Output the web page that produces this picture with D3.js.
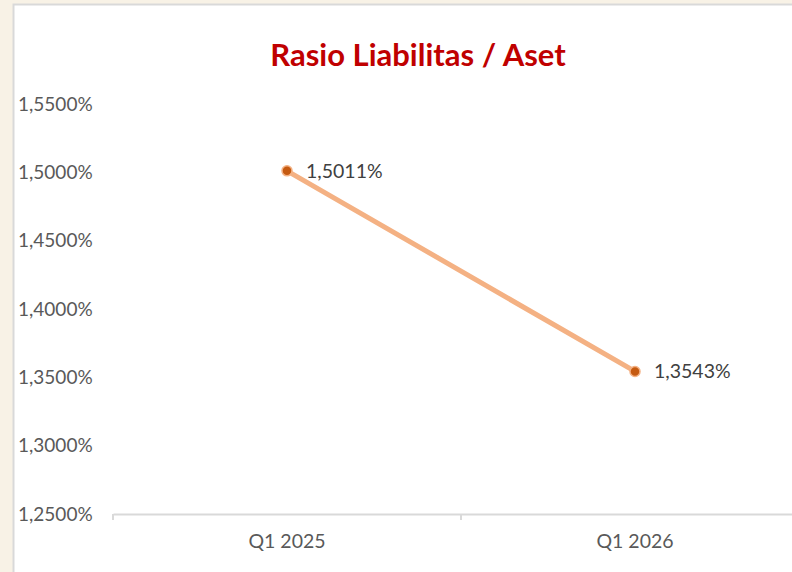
<!DOCTYPE html>
<html><head><meta charset="utf-8">
<script src="https://cdn.jsdelivr.net/npm/d3@7"></script>
<style>body{margin:0;background:#fff;}svg{display:block;}</style>
</head><body>
<script>
const categories = ["Q1 2025", "Q1 2026"];
const values = [1.5011, 1.3543];
const valueLabels = ["1,5011%", "1,3543%"];
const yTicks = [1.25, 1.30, 1.35, 1.40, 1.45, 1.50, 1.55];
const title = "Rasio Liabilitas / Aset";

const W = 792, H = 572;
const svg = d3.select("body").append("svg").attr("width", W).attr("height", H);
// background frame
svg.append("rect").attr("x",0).attr("y",0).attr("width",W).attr("height",H).attr("fill","#F8F2E6");
svg.append("rect").attr("x",13.5).attr("y",4.5).attr("width",W).attr("height",H).attr("fill","#fff").attr("stroke","#D9D9D9").attr("stroke-width",2);

const font = "Lato, 'Open Sans', sans-serif";
const x = d3.scaleBand().domain(categories).range([113, 809]);
const y = d3.scaleLinear().domain([1.25, 1.55]).range([514, 104]);

svg.append("text").attr("x", 418).attr("y", 66).attr("text-anchor","middle")
  .attr("font-family", font).attr("font-weight","bold").attr("font-size", 31)
  .attr("fill","#C00000").text(title);

// y axis labels
const fmt = v => d3.format(".4f")(v).replace(".", ",") + "%";
svg.append("g").selectAll("text").data(yTicks).join("text")
  .attr("x", 18).attr("y", d => y(d)).attr("dy","0.35em")
  .attr("font-family", font).attr("font-size", 19).attr("fill","#595959")
  .text(fmt);

// x axis
const xAxis = svg.append("g").attr("transform","translate(0,514)")
  .call(d3.axisBottom(x).tickSize(0).tickPadding(20));
xAxis.select(".domain").attr("stroke","#D9D9D9").attr("stroke-width",2);
xAxis.selectAll("text").attr("font-family", font).attr("font-size",19.5).attr("fill","#595959");
// category boundary ticks
const bounds = [x.range()[0], x(categories[1])];
svg.append("g").selectAll("line").data(bounds).join("line")
  .attr("x1", d=>d).attr("x2", d=>d).attr("y1",514).attr("y2",520)
  .attr("stroke","#D9D9D9").attr("stroke-width",2);

const cx = d => x(d) + x.bandwidth()/2;
const pts = categories.map((c,i)=>({c, v: values[i], l: valueLabels[i]}));
svg.append("path").datum(pts)
  .attr("d", d3.line().x(d=>cx(d.c)).y(d=>y(d.v)))
  .attr("fill","none").attr("stroke","#F4B183").attr("stroke-width",5).attr("stroke-linecap","round");
svg.append("g").selectAll("circle").data(pts).join("circle")
  .attr("cx", d=>cx(d.c)).attr("cy", d=>y(d.v)).attr("r",5)
  .attr("fill","#C55A11").attr("stroke","#F4B183").attr("stroke-width",1.5);
svg.append("g").selectAll("text").data(pts).join("text")
  .attr("x", d=>cx(d.c)+19).attr("y", d=>y(d.v)).attr("dy","0.35em")
  .attr("font-family", font).attr("font-size",19.5).attr("fill","#404040")
  .text(d=>d.l);
</script>
</body></html>
